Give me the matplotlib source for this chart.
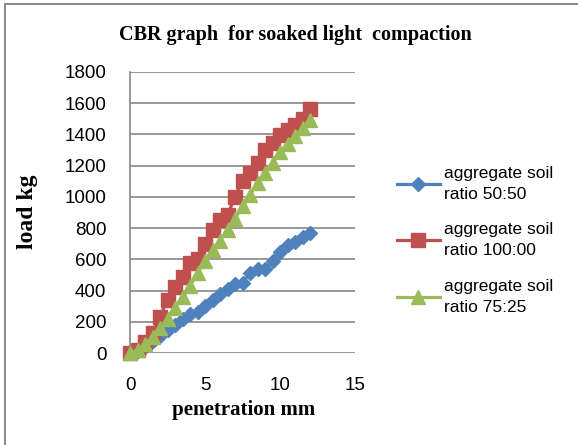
import matplotlib
matplotlib.use('Agg')
import matplotlib.pyplot as plt
from matplotlib.patches import Rectangle

# penetration (mm) and load (kg)
penetration = [0, 0.5, 1, 1.5, 2, 2.5, 3, 3.5, 4, 4.5, 5, 5.5, 6, 6.5,
               7, 7.5, 8, 8.5, 9, 9.5, 10, 10.5, 11, 11.5, 12]
load_50_50 = [0, 10, 40, 75, 110, 145, 180, 220, 250, 265, 300, 340, 380, 410,
              440, 450, 510, 540, 540, 590, 650, 690, 710, 740, 770]
load_100_00 = [0, 20, 70, 130, 230, 340, 425, 490, 575, 600, 700, 790, 850, 885,
               1000, 1100, 1150, 1215, 1300, 1345, 1395, 1430, 1460, 1500, 1560]
load_75_25 = [0, 20, 55, 100, 160, 220, 290, 360, 430, 510, 590, 660, 720, 790,
              860, 940, 1010, 1090, 1150, 1220, 1290, 1340, 1390, 1440, 1490]
labels = ['aggregate soil\nratio 50:50', 'aggregate soil\nratio 100:00',
          'aggregate soil\nratio 75:25']

W, H = 578, 445
fig = plt.figure(figsize=(W / 100, H / 100), dpi=100)
ax = fig.add_axes([130 / W, 1 - 353 / H, 225 / W, 281 / H])

# outer chart border
fig.patches.append(Rectangle((5 / W, -0.1), 1.2, 0.1 + 1 - 4 / H, transform=fig.transFigure,
                             fill=False, edgecolor='#8c8c8c', linewidth=1.5))

ax.plot(penetration, load_50_50, color='#4F81BD', marker='D', markersize=7,
        linewidth=2.3, label=labels[0], clip_on=False, zorder=3)
ax.plot(penetration, load_100_00, color='#C0504D', marker='s', markersize=9.5,
        linewidth=2.3, label=labels[1], clip_on=False, zorder=3)
ax.plot(penetration, load_75_25, color='#9BBB59', marker='^', markersize=10.5,
        linewidth=2.3, label=labels[2], clip_on=False, zorder=4)

ax.set_xlim(0, 15)
ax.set_ylim(0, 1800)
ax.set_xticks([0, 5, 10, 15])
ax.set_yticks(range(0, 1801, 200))
ax.yaxis.grid(True, color='#868686', linewidth=1.2)
ax.set_axisbelow(True)
for s in ['top', 'right', 'bottom']:
    ax.spines[s].set_visible(False)
ax.spines['left'].set_color('#868686')
ax.spines['left'].set_linewidth(1.2)
ax.tick_params(length=0, labelsize=13.5)
ax.tick_params(axis='y', pad=17)
ax.tick_params(axis='x', pad=17)
for t in ax.get_xticklabels() + ax.get_yticklabels():
    t.set_fontfamily('Liberation Sans')

fig.text(295 / W, 1 - 35 / H, 'CBR graph  for soaked light  compaction', ha='center', va='center',
         fontfamily='Liberation Serif', fontweight='bold', fontsize=14.5)
fig.text(244 / W, 1 - 410 / H, 'penetration mm', ha='center', va='center',
         fontfamily='Liberation Serif', fontweight='bold', fontsize=15)
fig.text(27 / W, 1 - 212 / H, 'load kg', ha='center', va='center', rotation=90,
         fontfamily='Liberation Serif', fontweight='bold', fontsize=17)

leg = fig.legend(loc='upper left', bbox_to_anchor=(381 / W, 1 - 150 / H), frameon=False,
                 prop={'family': 'Liberation Sans', 'size': 12.5}, handlelength=2.5,
                 handletextpad=0.25, labelspacing=1.2)
for t in leg.get_texts():
    t.set_linespacing(1.5)

fig.savefig('out.png', dpi=100)
